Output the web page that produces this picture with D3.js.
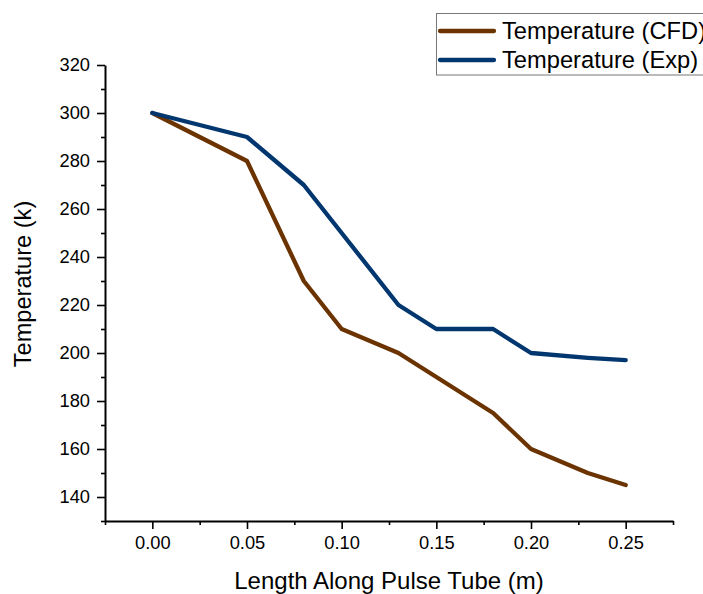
<!DOCTYPE html>
<html>
<head>
<meta charset="utf-8">
<script src="https://cdn.jsdelivr.net/npm/d3@7"></script>
<style>
  body { margin: 0; background: #fff; }
  text { font-family: Arial, "Liberation Sans", sans-serif; fill: #000; }
</style>
</head>
<body>
<div id="chart"></div>
<script>
// data
var lengths = [0, 0.05, 0.08, 0.10, 0.13, 0.15, 0.18, 0.20, 0.23, 0.25];
var tempCFD = [300, 280, 230, 210, 200, 190, 175, 160, 150, 145];
var tempExp = [300, 290, 270, 250, 220, 210, 210, 200, 198, 197];
var seriesNames = ["Temperature (CFD)", "Temperature (Exp)"];
var seriesColors = ["#6b3300", "#02366f"];
var xTicks = [0, 0.05, 0.10, 0.15, 0.20, 0.25];
var yTicks = [140, 160, 180, 200, 220, 240, 260, 280, 300, 320];

var W = 703, H = 594;
var plotLeft = 105, plotRight = 673, plotTop = 65, plotBottom = 521;

var svg = d3.select("#chart")
  .append("svg")
    .attr("width", W)
    .attr("height", H);

var x = d3.scaleLinear().domain([-0.025, 0.275]).range([plotLeft, plotRight]);
var y = d3.scaleLinear().domain([130, 320]).range([plotBottom, plotTop]);

// minor ticks first
var xMinor = [-0.025, 0.025, 0.075, 0.125, 0.175, 0.225, 0.275];
var yMinor = [130, 150, 170, 190, 210, 230, 250, 270, 290, 310];

svg.append("g")
  .attr("transform", "translate(0," + plotBottom + ")")
  .call(d3.axisBottom(x).tickValues(xMinor).tickSize(4).tickFormat(""))
  .call(function(g) { g.select(".domain").remove(); })
  .selectAll("line").attr("stroke-width", 1.6);

svg.append("g")
  .attr("transform", "translate(" + plotLeft + ",0)")
  .call(d3.axisLeft(y).tickValues(yMinor).tickSize(4).tickFormat(""))
  .call(function(g) { g.select(".domain").remove(); })
  .selectAll("line").attr("stroke-width", 1.6);

// X axis
var gx = svg.append("g")
  .attr("transform", "translate(0," + plotBottom + ")")
  .call(d3.axisBottom(x).tickValues(xTicks).tickSizeInner(8).tickSizeOuter(0)
    .tickPadding(7).tickFormat(d3.format(".2f")));
gx.select(".domain").attr("stroke-width", 2);
gx.selectAll("line").attr("stroke-width", 1.6);
gx.selectAll("text").style("font-size", "18.3px");

// Y axis
var gy = svg.append("g")
  .attr("transform", "translate(" + plotLeft + ",0)")
  .call(d3.axisLeft(y).tickValues(yTicks).tickSizeInner(8).tickSizeOuter(0).tickPadding(7));
gy.select(".domain").attr("stroke-width", 2);
gy.selectAll("line").attr("stroke-width", 1.6);
gy.selectAll("text").style("font-size", "18.3px");

// axis titles
svg.append("text")
  .attr("text-anchor", "middle")
  .attr("x", 389)
  .attr("y", 589)
  .style("font-size", "24px")
  .text("Length Along Pulse Tube (m)");

svg.append("text")
  .attr("text-anchor", "middle")
  .attr("transform", "translate(31,284) rotate(-90)")
  .style("font-size", "23.6px")
  .text("Temperature (k)");

// lines
var allSeries = [tempCFD, tempExp];
var line = d3.line()
  .x(function(d, i) { return x(lengths[i]); })
  .y(function(d) { return y(d); });

allSeries.forEach(function(s, k) {
  svg.append("path")
    .datum(s)
    .attr("fill", "none")
    .attr("stroke", seriesColors[k])
    .attr("stroke-width", 4.3)
    .attr("stroke-linejoin", "round")
    .attr("stroke-linecap", "round")
    .attr("d", line);
});

// legend
var lg = svg.append("g");
lg.append("rect")
  .attr("x", 436.5).attr("y", 13.5)
  .attr("width", 280).attr("height", 61.5)
  .attr("fill", "none")
  .attr("stroke", "#777")
  .attr("stroke-width", 1);

seriesNames.forEach(function(name, k) {
  var ly = 31 + k * 29;
  lg.append("line")
    .attr("x1", 440).attr("x2", 494)
    .attr("y1", ly).attr("y2", ly)
    .attr("stroke", seriesColors[k])
    .attr("stroke-width", 4.3)
    .attr("stroke-linecap", "round");
  lg.append("text")
    .attr("x", 502)
    .attr("y", ly + 8)
    .style("font-size", "23.7px")
    .text(name);
});
</script>
</body>
</html>
